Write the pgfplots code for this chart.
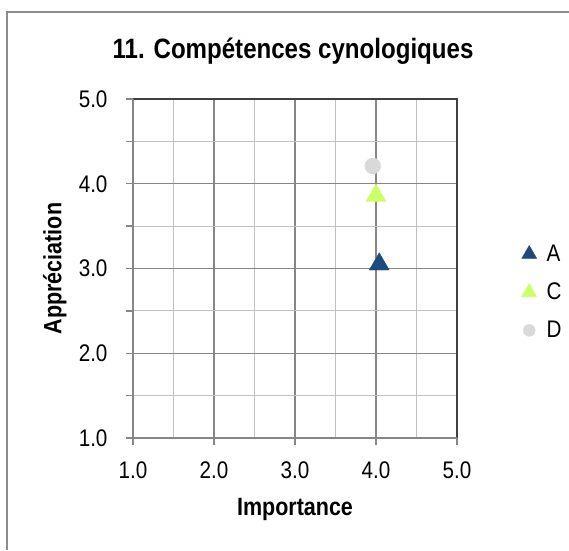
\documentclass[border=0pt]{standalone}
\usepackage{fontspec}
\setmainfont{Liberation Sans}
\newfontfamily\narrow[FakeStretch=0.86]{Liberation Sans}
\usepackage{pgfplots}
\pgfplotsset{compat=1.18}
\definecolor{serA}{HTML}{1F497D}
\definecolor{serC}{HTML}{CCFF66}
\definecolor{serD}{HTML}{D9D9D9}
\definecolor{majgrid}{HTML}{868686}
\definecolor{mingrid}{HTML}{C0C0C0}
\definecolor{boxline}{HTML}{404040}
\definecolor{framec}{HTML}{8C8C8C}

\begin{document}
\begin{tikzpicture}[x=1pt,y=1pt]
\useasboundingbox (0,0) rectangle (569,550);
\draw[framec, line width=1.5pt] (7,0) -- (7,538) -- (569,538);
\node[font=\narrow\bfseries\fontsize{28}{32}\selectfont] at (293,499) {11. Compétences cynologiques};
\begin{axis}[
  at={(133pt,112pt)}, anchor=south west,
  scale only axis, width=324pt, height=339pt,
  xmin=1, xmax=5, ymin=1, ymax=5,
  xtick={1,2,3,4,5}, ytick={1,2,3,4,5},
  xticklabels={1.0,2.0,3.0,4.0,5.0},
  yticklabels={1.0,2.0,3.0,4.0,5.0},
  minor x tick num=1, minor y tick num=1,
  grid=both,
  major grid style={majgrid, line width=1.3pt},
  minor grid style={mingrid, line width=1.2pt},
  axis line style={draw=none},
  tick align=outside, xtick pos=bottom, ytick pos=left,
  major tick length=7pt, minor tick length=7pt,
  tick style={majgrid, line width=1.3pt},
  minor x tick style={draw=none},
  tick label style={font=\narrow\fontsize{24}{28}\selectfont},
  xticklabel style={yshift=-13pt},
  yticklabel style={xshift=-15pt},
  xlabel={Importance},
  ylabel={Appréciation},
  label style={font=\narrow\bfseries\fontsize{25}{30}\selectfont},
  xlabel style={at={(axis description cs:0.5,-0.212)}, anchor=center},
  ylabel style={at={(axis description cs:-0.241,0.5)}, anchor=center},
  legend style={at={(axis description cs:1.19,0.43)}, anchor=west,
    draw=none, fill=none, font=\narrow\fontsize{24}{28}\selectfont,
    row sep=16pt, /tikz/every odd column/.append style={column sep=8pt}},
  legend cell align=left,
  legend image code/.code={\draw[#1, mark options={scale=0.75}] plot coordinates {(0pt,0pt)};},
]
\addplot[only marks, mark=triangle*, mark size=11.5pt, draw=serA, fill=serA]
  coordinates {(4.04,3.05)};
\addlegendentry{A}
\addplot[only marks, mark=triangle*, mark size=11.5pt, draw=serC, fill=serC]
  coordinates {(4.00,3.86)};
\addlegendentry{C}
\addplot[only marks, mark=*, mark size=8pt, draw=serD, fill=serD]
  coordinates {(3.96,4.21)};
\addlegendentry{D}
\end{axis}
\draw[boxline, line width=1.2pt] (133,451) -- (457,451) -- (457,112);
\draw[majgrid, line width=1.3pt] (133,451) -- (133,112) -- (457,112);
\end{tikzpicture}
\end{document}
